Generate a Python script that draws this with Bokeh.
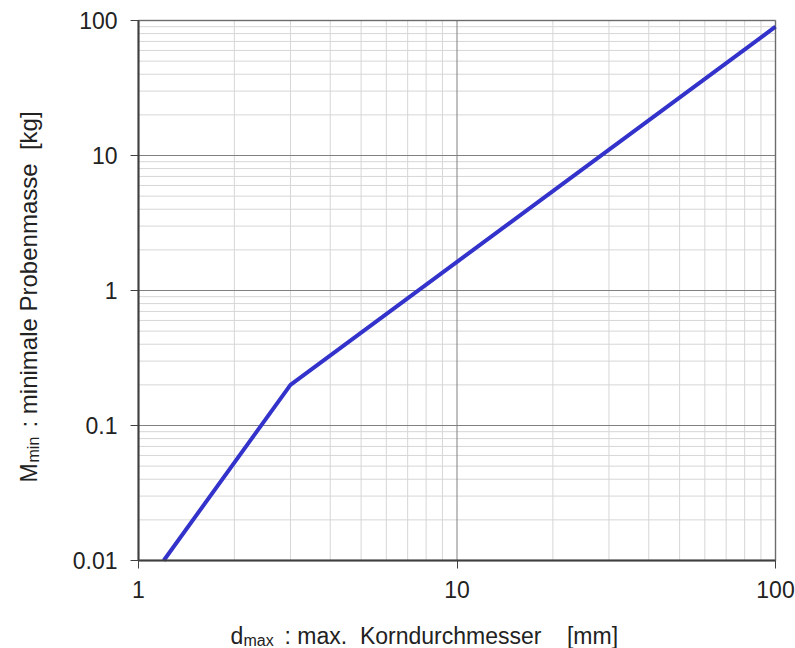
import math
from bokeh.plotting import figure
from bokeh.models import FixedTicker, Label, ColumnDataSource, BoxAnnotation, Range1d
from bokeh.embed import file_html
from bokeh.resources import INLINE

# ---- data ----
d_max = [1.2, 3.0, 100.0]          # max. grain diameter [mm]
m_min = [0.01, 0.2, 90.0]          # minimal sample mass [kg]

x_lim = [1, 100]
y_lim = [0.01, 100]
x_major = [1, 10, 100]
x_minor = [2, 3, 4, 5, 6, 7, 8, 9, 20, 30, 40, 50, 60, 70, 80, 90]
y_major = [0.01, 0.1, 1, 10, 100]
y_minor = [0.02, 0.03, 0.04, 0.05, 0.06, 0.07, 0.08, 0.09,
           0.2, 0.3, 0.4, 0.5, 0.6, 0.7, 0.8, 0.9,
           2, 3, 4, 5, 6, 7, 8, 9,
           20, 30, 40, 50, 60, 70, 80, 90]
x_tick_labels = ["1", "10", "100"]
y_tick_labels = ["0.01", "0.1", "1", "10", "100"]

NB = "\u00a0"
x_title = ["d", "max", ": max." + NB + " Korndurchmesser" + NB + NB + NB + " [mm]"]
y_title = ["M", "min", ": minimale Probenmasse" + NB + " [kg]"]

# ---- layout (pixels of the plotting box on the canvas) ----
W, H = 795, 648
BL, BR, BT, BB = 138, 775, 20, 560
FONT = "Liberation Sans"
TXT = "#222222"

lx0, lx1 = math.log10(x_lim[0]), math.log10(x_lim[1])
ly0, ly1 = math.log10(y_lim[0]), math.log10(y_lim[1])
ppx = (BR - BL) / (lx1 - lx0)
ppy = (BB - BT) / (ly1 - ly0)
x_range = Range1d(10 ** (lx0 - BL / ppx), 10 ** (lx1 + (W - BR) / ppx))
y_range = Range1d(10 ** (ly0 - (H - BB) / ppy), 10 ** (ly1 + BT / ppy))

p = figure(width=W, height=H, x_axis_type="log", y_axis_type="log",
           x_range=x_range, y_range=y_range,
           output_backend="svg", toolbar_location=None,
           min_border=0)
p.background_fill_color = "white"
p.border_fill_color = "white"
p.outline_line_color = None
p.xgrid.visible = False
p.ygrid.visible = False

# grid lines (minor first, then major)
p.segment(x0=x_minor, x1=x_minor, y0=[y_lim[0]] * len(x_minor), y1=[y_lim[1]] * len(x_minor),
          line_color="#d6d6d6", line_width=1)
p.segment(x0=[x_lim[0]] * len(y_minor), x1=[x_lim[1]] * len(y_minor), y0=y_minor, y1=y_minor,
          line_color="#d6d6d6", line_width=1)
p.segment(x0=x_major, x1=x_major, y0=[y_lim[0]] * len(x_major), y1=[y_lim[1]] * len(x_major),
          line_color="#808080", line_width=1)
p.segment(x0=[x_lim[0]] * len(y_major), x1=[x_lim[1]] * len(y_major), y0=y_major, y1=y_major,
          line_color="#808080", line_width=1)

# data line
src = ColumnDataSource(dict(x=d_max, y=m_min))
p.line("x", "y", source=src, line_color="#3333cc", line_width=4)

# plot box
p.add_layout(BoxAnnotation(left=x_lim[0], right=x_lim[1], bottom=y_lim[0], top=y_lim[1],
                           fill_alpha=0, line_color="#404040", line_width=2))

# axes
xt = FixedTicker(ticks=x_major, minor_ticks=x_minor)
yt = FixedTicker(ticks=y_major, minor_ticks=y_minor)
p.xaxis.ticker = xt
p.yaxis.ticker = yt
p.xaxis.fixed_location = y_lim[0]
p.yaxis.fixed_location = x_lim[0]
p.xaxis.bounds = tuple(x_lim)
p.yaxis.bounds = tuple(y_lim)
p.xaxis.major_label_overrides = dict(zip(x_major, x_tick_labels))
p.yaxis.major_label_overrides = dict(zip(y_major, y_tick_labels))

for ax in (p.xaxis, p.yaxis):
    ax.axis_line_color = "#404040"
    ax.axis_line_width = 2
    ax.major_tick_line_color = "#404040"
    ax.major_tick_line_width = 1
    ax.major_tick_out = 8
    ax.major_tick_in = 0
    ax.minor_tick_out = 0
    ax.minor_tick_in = 0
    ax.major_label_text_font = FONT
    ax.major_label_text_font_size = "23px"
    ax.major_label_text_color = TXT
p.xaxis.major_label_standoff = 12
p.yaxis.major_label_standoff = 13


def lab(text, cx, cy, size, angle=0.0):
    # cx, cy: canvas pixels from top-left (frame == canvas)
    p.add_layout(Label(x=cx, y=H - cy, x_units="screen", y_units="screen",
                       text=text, text_font=FONT, text_font_size=size,
                       text_color=TXT, angle=angle, angle_units="rad",
                       text_align="left", text_baseline="alphabetic"))


# x title pieces
lab(x_title[0], 230, 635, "23px")
lab(x_title[1], 243, 640, "16px")
lab(x_title[2], 284, 635, "23px")

# y title pieces (rotated, reading bottom to top)
a = math.pi / 2
lab(y_title[0], 28, 482, "23px", a)
lab(y_title[1], 33, 462, "16px", a)
lab(y_title[2], 28, 427, "24px", a)

open("out.html", "w").write(file_html(p, INLINE))
